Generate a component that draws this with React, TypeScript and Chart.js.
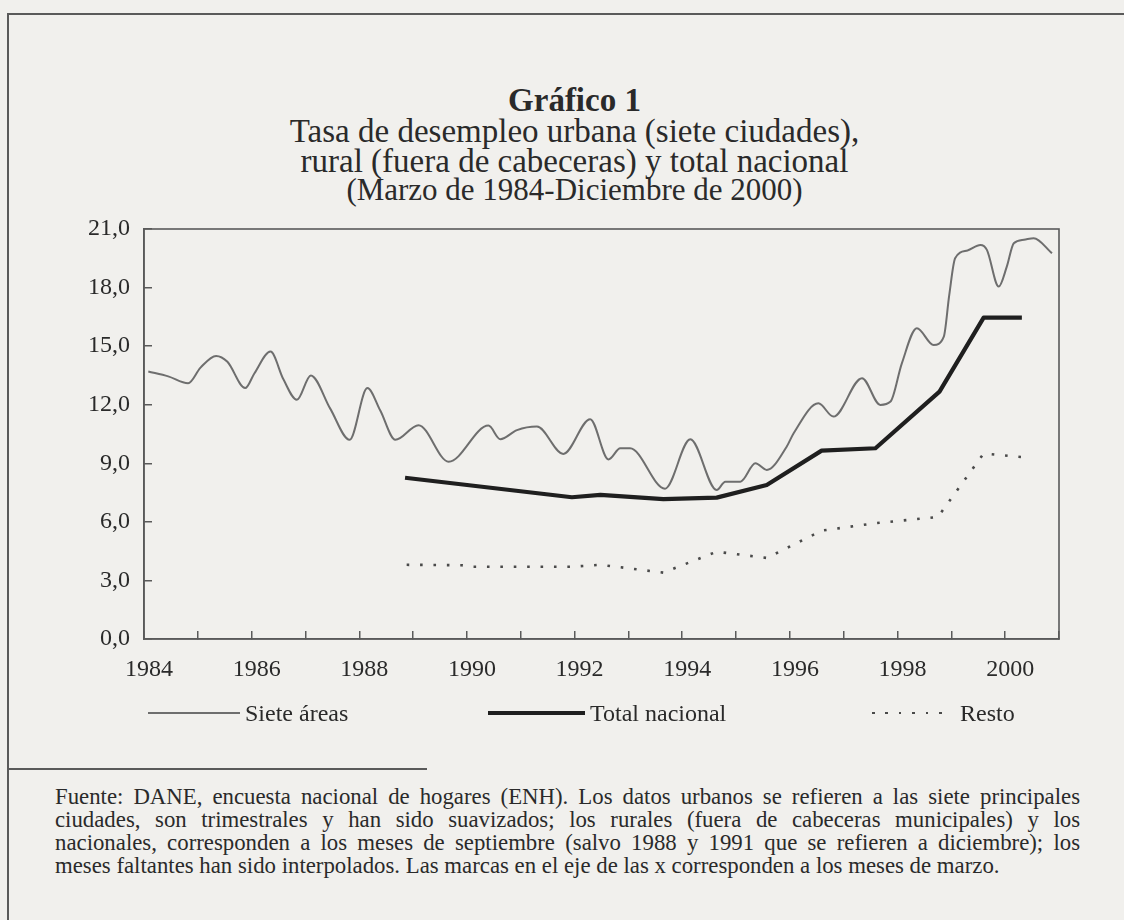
import React, { useEffect, useRef } from 'react';
import { Chart, registerables } from 'chart.js';

Chart.register(...registerables);

// ---------- data (x = years, where an integer year = March of that year) ----------
const sieteYears = [
  1984.08, 1984.45, 1984.82, 1985.05, 1985.34, 1985.55, 1985.88, 1986.05, 1986.35, 1986.59,
  1986.84, 1987.1, 1987.46, 1987.82, 1988.15, 1988.39, 1988.67, 1989.1, 1989.66, 1990.4,
  1990.62, 1990.93, 1991.3, 1991.79, 1992.29, 1992.63, 1992.85, 1993.03, 1993.68, 1994.15,
  1994.64, 1994.8, 1995.08, 1995.36, 1995.57, 1995.94, 1996.07, 1996.53, 1996.81, 1997.34,
  1997.68, 1997.87, 1998.08, 1998.36, 1998.67, 1998.86, 1998.96, 1999.07, 1999.3, 1999.54,
  1999.66, 1999.88, 2000.03, 2000.16, 2000.35, 2000.53, 2000.87,
];
const sieteValues = [
  13.7, 13.45, 13.1, 13.9, 14.5, 14.2, 12.85, 13.6, 14.72, 13.3,
  12.25, 13.5, 11.8, 10.2, 12.85, 11.7, 10.2, 10.95, 9.08, 10.93,
  10.23, 10.7, 10.88, 9.48, 11.26, 9.2, 9.77, 9.77, 7.7, 10.23,
  7.63, 8.06, 8.06, 9.0, 8.66, 9.85, 10.54, 12.07, 11.39, 13.36,
  11.99, 12.16, 14.12, 15.92, 15.06, 15.49, 17.6, 19.5, 19.9, 20.18,
  19.93, 18.05, 19.07, 20.27, 20.45, 20.53, 19.76,
];

const totalYears = [1988.85, 1991.95, 1992.48, 1993.65, 1994.64, 1995.57, 1996.59, 1997.59, 1998.78, 1999.6, 2000.31];
const totalValues = [8.26, 7.26, 7.38, 7.16, 7.24, 7.89, 9.65, 9.77, 12.67, 16.46, 16.46];

const restoYears = [1988.88, 1989.9, 1990.1, 1991.95, 1992.48, 1993.65, 1994.64, 1995.57, 1996.59, 1997.59, 1998.75, 1999.6, 2000.38];
const restoValues = [3.8, 3.78, 3.7, 3.7, 3.8, 3.4, 4.47, 4.15, 5.55, 5.93, 6.25, 9.5, 9.3];

const yTickValues = [0, 3, 6, 9, 12, 15, 18, 21];
const xTickLabels = ['1984', '1986', '1988', '1990', '1992', '1994', '1996', '1998', '2000'];
const seriesLabels = ['Siete áreas', 'Total nacional', 'Resto'];

const titleLines = [
  'Gráfico 1',
  'Tasa de desempleo urbana (siete ciudades),',
  'rural (fuera de cabeceras) y total nacional',
  '(Marzo de 1984-Diciembre de 2000)',
];
const noteLines = [
  'Fuente: DANE, encuesta nacional de hogares (ENH). Los datos urbanos se refieren a las siete principales',
  'ciudades, son trimestrales y han sido suavizados; los rurales (fuera de cabeceras municipales) y los',
  'nacionales, corresponden a los meses de septiembre (salvo 1988 y 1991 que se refieren a diciembre); los',
  'meses faltantes han sido interpolados. Las marcas en el eje de las x corresponden a los meses de marzo.',
];

// ---------- styles ----------
const FONT = "'Liberation Serif', 'Times New Roman', serif";
const BG = '#f1f0ed';
const INK = '#2a2a2a';
const AXIS = '#5a5a5a';
const seriesStyles = [
  { color: '#6e6e6e', width: 2, dash: [] as number[] },
  { color: '#1f1f1f', width: 4.2, dash: [] as number[] },
  { color: '#4a4a4a', width: 2.6, dash: [2.6, 10.8] },
];

const toPoints = (xs: number[], ys: number[]) => xs.map((x, i) => ({ x, y: ys[i] }));

const framePlugin = {
  id: 'plotFrame',
  afterDraw(chart: any) {
    const { ctx, chartArea } = chart;
    ctx.save();
    ctx.strokeStyle = AXIS;
    ctx.lineWidth = 1.6;
    ctx.strokeRect(chartArea.left, chartArea.top, chartArea.right - chartArea.left, chartArea.bottom - chartArea.top);
    ctx.restore();
  },
};

function UnemploymentChart() {
  const ref = useRef<HTMLCanvasElement | null>(null);
  useEffect(() => {
    if (!ref.current) return;
    const chart = new Chart(ref.current, {
      type: 'line',
      data: {
        datasets: [
          {
            label: seriesLabels[0],
            data: toPoints(sieteYears, sieteValues),
            borderColor: seriesStyles[0].color,
            borderWidth: seriesStyles[0].width,
            cubicInterpolationMode: 'monotone',
            pointRadius: 0,
            fill: false,
          },
          {
            label: seriesLabels[1],
            data: toPoints(totalYears, totalValues),
            borderColor: seriesStyles[1].color,
            borderWidth: seriesStyles[1].width,
            tension: 0,
            pointRadius: 0,
            borderJoinStyle: 'round',
            fill: false,
          },
          {
            label: seriesLabels[2],
            data: toPoints(restoYears, restoValues),
            borderColor: seriesStyles[2].color,
            borderWidth: seriesStyles[2].width,
            borderDash: seriesStyles[2].dash,
            tension: 0,
            pointRadius: 0,
            fill: false,
          },
        ],
      },
      options: {
        animation: false,
        responsive: false,
        devicePixelRatio: 1,
        layout: { padding: { top: 29, right: 65, left: 0, bottom: 0 } },
        plugins: {
          legend: { display: false },
          tooltip: { enabled: false },
          title: { display: false },
        },
        scales: {
          x: {
            type: 'linear',
            min: 1984,
            max: 2001,
            afterFit: (s: any) => { s.height = 61; s.paddingLeft = 0; s.paddingRight = 0; },
            grid: { drawOnChartArea: false, drawTicks: true, tickLength: -8, color: AXIS, lineWidth: 1.5 },
            border: { display: true, color: AXIS, width: 1.6 },
            ticks: {
              stepSize: 1,
              autoSkip: false,
              maxRotation: 0,
              padding: 24,
              labelOffset: 5,
              color: INK,
              font: { family: FONT, size: 24 },
              callback: (v: any) => (xTickLabels.includes(String(v)) ? String(v) : ''),
            },
          },
          y: {
            min: 0,
            max: 21,
            afterFit: (s: any) => { s.width = 144; s.paddingTop = 0; s.paddingBottom = 0; },
            afterBuildTicks: (s: any) => { s.ticks = yTickValues.map((v) => ({ value: v })); },
            grid: { drawOnChartArea: false, drawTicks: true, tickLength: -8, color: AXIS, lineWidth: 1.5 },
            border: { display: true, color: AXIS, width: 1.6 },
            ticks: {
              padding: 22,
              color: INK,
              font: { family: FONT, size: 24 },
              callback: (v: any) => Number(v).toFixed(1).replace('.', ','),
            },
          },
        },
      },
      plugins: [framePlugin],
    } as any);
    return () => chart.destroy();
  }, []);
  return (
    <canvas
      ref={ref}
      width={1124}
      height={500}
      style={{ position: 'absolute', left: 0, top: 200, width: 1124, height: 500 }}
    />
  );
}

const legendLayout = [
  { lineLeft: 148, lineWidth: 92, textLeft: 245 },
  { lineLeft: 488, lineWidth: 97, textLeft: 590 },
  { lineLeft: 872, lineWidth: 78, textLeft: 960 },
];

function LegendSample({ i }: { i: number }) {
  const st = seriesStyles[i];
  const lay = legendLayout[i];
  const h = st.width;
  const background = st.dash.length
    ? `repeating-linear-gradient(to right, ${st.color} 0 ${st.dash[0]}px, transparent ${st.dash[0]}px ${st.dash[0] + st.dash[1]}px)`
    : st.color;
  return (
    <>
      <div style={{ position: 'absolute', left: lay.lineLeft, top: 713 - h / 2, width: lay.lineWidth, height: h, background }} />
      <div style={{ position: 'absolute', left: lay.textLeft, top: 698, height: 30, lineHeight: '30px', fontSize: 24, color: INK, whiteSpace: 'nowrap' }}>
        {seriesLabels[i]}
      </div>
    </>
  );
}

export default function App() {
  const titleCenters = [100, 131, 161, 190];
  const titleSizes = [33, 33, 33, 31];
  return (
    <div style={{ position: 'absolute', left: 0, top: 0, width: 1124, height: 920, overflow: 'hidden', background: BG, fontFamily: FONT, color: INK }}>
      {/* page frame */}
      <div style={{ position: 'absolute', left: 7, top: 13, width: 1300, height: 1000, borderLeft: `2px solid ${AXIS}`, borderTop: `2px solid ${AXIS}` }} />
      {titleLines.map((t, i) => (
        <div
          key={i}
          style={{
            position: 'absolute', left: 0, width: 1149, top: titleCenters[i] - 16, height: 32, lineHeight: '32px',
            textAlign: 'center', fontSize: titleSizes[i], fontWeight: i === 0 ? 'bold' : 'normal', whiteSpace: 'nowrap',
          }}
        >
          {t}
        </div>
      ))}
      <UnemploymentChart />
      {seriesLabels.map((_, i) => <LegendSample key={i} i={i} />)}
      {/* separator */}
      <div style={{ position: 'absolute', left: 8, top: 768, width: 419, height: 2, background: AXIS }} />
      {noteLines.map((t, i) => (
        <div
          key={i}
          style={{
            position: 'absolute', left: 55, width: 1025, top: 797 + i * 23 - 12, height: 24, lineHeight: '24px',
            fontSize: 22.8, whiteSpace: 'nowrap', textAlign: 'justify', textAlignLast: i < 3 ? 'justify' : 'left',
          } as any}
        >
          {t}
        </div>
      ))}
    </div>
  );
}
